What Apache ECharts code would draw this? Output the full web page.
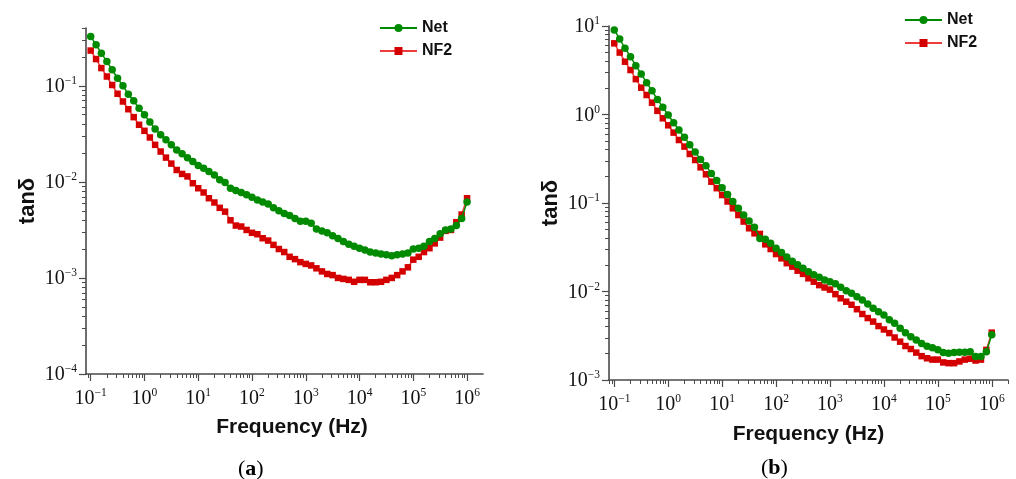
<!DOCTYPE html>
<html>
<head>
<meta charset="utf-8">
<script src="https://cdn.jsdelivr.net/npm/echarts@6/dist/echarts.min.js"></script>
<style>
  html, body { margin: 0; padding: 0; background: #fff; }
  #chart { width: 1016px; height: 479px; }
</style>
</head>
<body>
<div id="chart"></div>
<script>
// frequency points (Hz), 10 per decade
const freq = [
  0.1, 0.126, 0.158, 0.2, 0.251, 0.316, 0.398, 0.501, 0.631, 0.794,
  1, 1.26, 1.58, 2, 2.51, 3.16, 3.98, 5.01, 6.31, 7.94,
  10, 12.6, 15.8, 20, 25.1, 31.6, 39.8, 50.1, 63.1, 79.4,
  100, 126, 158, 200, 251, 316, 398, 501, 631, 794,
  1000, 1260, 1580, 2000, 2510, 3160, 3980, 5010, 6310, 7940,
  10000, 12600, 15800, 20000, 25100, 31600, 39800, 50100, 63100, 79400,
  100000, 126000, 158000, 200000, 251000, 316000, 398000, 501000, 631000, 794000,
  1000000
]

// (a) tan delta
const netA = [
  0.327, 0.267, 0.219, 0.179, 0.147, 0.120, 0.100, 0.0818, 0.0698, 0.0585,
  0.0499, 0.0419, 0.0356, 0.0309, 0.0274, 0.0243, 0.0215, 0.0196, 0.0178, 0.0163,
  0.0148, 0.0139, 0.0128, 0.0118, 0.0105, 0.00984, 0.00859, 0.00813, 0.00776, 0.00733,
  0.00692, 0.00646, 0.00617, 0.00589, 0.00537, 0.00501, 0.00468, 0.00447, 0.00417, 0.00389,
  0.00389, 0.00372, 0.00324, 0.00309, 0.00295, 0.00275, 0.00257, 0.00240, 0.00224, 0.00214,
  0.00204, 0.00195, 0.00186, 0.00182, 0.00178, 0.00174, 0.00170, 0.00174, 0.00178, 0.00182,
  0.00200, 0.00204, 0.00214, 0.00240, 0.00257, 0.00288, 0.00316, 0.00324, 0.00351, 0.00417,
  0.00617
]
const nf2A = [
  0.233, 0.190, 0.153, 0.125, 0.102, 0.0826, 0.0687, 0.0571, 0.0472, 0.0393,
  0.0340, 0.0290, 0.0243, 0.0207, 0.0179, 0.0155, 0.0133, 0.0121, 0.0114, 0.00968,
  0.00859, 0.00776, 0.00676, 0.00610, 0.00537, 0.00490, 0.00398, 0.00351, 0.00343, 0.00316,
  0.00295, 0.00285, 0.00259, 0.00245, 0.00221, 0.00200, 0.00186, 0.00166, 0.00157, 0.00146,
  0.00140, 0.00135, 0.00126, 0.00117, 0.00110, 0.00107, 0.00100, 0.000977, 0.000955, 0.000912,
  0.000955, 0.000955, 0.000902, 0.000902, 0.000912, 0.000955, 0.00100, 0.00107, 0.00117, 0.00129,
  0.00155, 0.00166, 0.00186, 0.00204, 0.00229, 0.00263, 0.00309, 0.00316, 0.00380, 0.00457,
  0.00676
]

// (b) tan delta
const netB = [
  9.02, 7.13, 5.60, 4.50, 3.56, 2.87, 2.29, 1.85, 1.48, 1.21,
  0.986, 0.809, 0.668, 0.552, 0.456, 0.377, 0.311, 0.264, 0.216, 0.179,
  0.149, 0.125, 0.104, 0.0871, 0.0731, 0.0627, 0.0531, 0.0398, 0.0389, 0.0350,
  0.0309, 0.0275, 0.0245, 0.0219, 0.0200, 0.0183, 0.0167, 0.0155, 0.0145, 0.0135,
  0.0129, 0.0122, 0.0112, 0.0102, 0.00955, 0.00871, 0.00802, 0.00724, 0.00646, 0.00589,
  0.00543, 0.00479, 0.00437, 0.00384, 0.00343, 0.00309, 0.00283, 0.00259, 0.00240, 0.00232,
  0.00219, 0.00204, 0.00200, 0.00204, 0.00206, 0.00206, 0.00209, 0.00184, 0.00184, 0.00209,
  0.00324
]
const nf2B = [
  6.37, 5.01, 3.95, 3.18, 2.51, 2.01, 1.66, 1.36, 1.10, 0.906,
  0.755, 0.624, 0.515, 0.434, 0.358, 0.306, 0.253, 0.211, 0.174, 0.147,
  0.123, 0.104, 0.0871, 0.0731, 0.0617, 0.0518, 0.0454, 0.0447, 0.0341, 0.0302,
  0.0265, 0.0237, 0.0209, 0.0191, 0.0172, 0.0158, 0.0141, 0.0129, 0.0118, 0.0111,
  0.0105, 0.00933, 0.00838, 0.00767, 0.00708, 0.00631, 0.00557, 0.00501, 0.00457, 0.00407,
  0.00372, 0.00339, 0.00302, 0.00271, 0.00242, 0.00224, 0.00204, 0.00186, 0.00176, 0.00170,
  0.00170, 0.00158, 0.00155, 0.00155, 0.00162, 0.00170, 0.00174, 0.00166, 0.00170, 0.00219,
  0.00343
]

// tick labels (decades)
const xDecades = [0.1, 1, 10, 100, 1000, 10000, 100000, 1000000]
const yDecadesA = [0.0001, 0.001, 0.01, 0.1]
const yDecadesB = [0.001, 0.01, 0.1, 1, 10]
const minorSteps = [2, 3, 4, 5, 6, 7, 8, 9]

const AXIS_COLOR = '#4a4a4a'
const GREEN = '#008a00'
const RED = '#d40000'

// minor log ticks between 10^from and 10^to
function minorTicks(from, to) {
  const out = []
  for (let e = from; e < to; e++) {
    minorSteps.forEach(m => out.push(parseFloat((m * Math.pow(10, e)).toPrecision(6))))
  }
  return out
}

function powLabel(value) {
  const e = Math.round(Math.log10(value))
  const sup = e < 0 ? '\u2212' + Math.abs(e) : String(e)
  return '{b|10}{s|' + sup + '}'
}

const labelRich = {
  b: { fontFamily: 'Liberation Serif', fontSize: 20, color: '#111', lineHeight: 22, verticalAlign: 'bottom' },
  s: { fontFamily: 'Liberation Serif', fontSize: 11.5, color: '#111', lineHeight: 12, verticalAlign: 'top' }
}

const nameStyle = {
  fontFamily: 'Liberation Sans',
  fontWeight: 'bold',
  fontSize: 21,
  color: '#111'
}

function majorAxis(gridIndex, dim, min, max, ticks, extra) {
  return Object.assign({
    type: 'log',
    logBase: 10,
    gridIndex: gridIndex,
    position: dim === 'x' ? 'bottom' : 'left',
    min: min,
    max: max,
    axisLine: { show: true, onZero: false, lineStyle: { color: AXIS_COLOR, width: 1.6 } },
    axisTick: { show: true, inside: false, length: 7, customValues: ticks, lineStyle: { color: AXIS_COLOR, width: 1.2 } },
    minorTick: { show: false },
    splitLine: { show: false },
    axisLabel: {
      customValues: ticks,
      formatter: powLabel,
      rich: labelRich,
      margin: dim === 'x' ? 13 : 9
    }
  }, extra)
}

function minorAxis(gridIndex, dim, min, max, ticks) {
  return {
    type: 'log',
    logBase: 10,
    gridIndex: gridIndex,
    position: dim === 'x' ? 'bottom' : 'left',
    min: min,
    max: max,
    axisLine: { show: false },
    axisTick: { show: true, inside: false, length: 4, customValues: ticks, lineStyle: { color: AXIS_COLOR, width: 1 } },
    minorTick: { show: false },
    splitLine: { show: false },
    axisLabel: { show: false }
  }
}

function lineSeries(name, xIdx, yIdx, values) {
  const isNet = name === 'Net'
  return {
    name: name,
    type: 'line',
    xAxisIndex: xIdx,
    yAxisIndex: yIdx,
    data: freq.map((f, i) => [f, values[i]]),
    symbol: isNet ? 'circle' : 'rect',
    symbolSize: isNet ? 7.5 : 6.5,
    showSymbol: true,
    z: isNet ? 3 : 2,
    lineStyle: { color: isNet ? GREEN : '#ee3b3b', width: 1.5 },
    itemStyle: { color: isNet ? GREEN : RED },
    emphasis: { disabled: true }
  }
}

function legendAt(left, top) {
  return {
    orient: 'vertical',
    left: left,
    top: top,
    padding: 0,
    data: ['Net', 'NF2'],
    itemWidth: 37,
    itemHeight: 10,
    itemGap: 7,
    selectedMode: false,
    textStyle: { fontFamily: 'Liberation Sans', fontWeight: 'bold', fontSize: 16, color: '#111' }
  }
}

const chart = echarts.init(document.getElementById('chart'), null, { renderer: 'canvas' })

chart.setOption({
  animation: false,
  backgroundColor: '#fff',
  grid: [
    { left: 86, top: 28, width: 397, height: 346 },
    { left: 609, top: 26, width: 399, height: 354 }
  ],
  legend: [legendAt(379, 20), legendAt(904, 12)],
  xAxis: [
    majorAxis(0, 'x', 0.0818, 1.98e6, xDecades, {
      name: 'Frequency (Hz)', nameLocation: 'middle', nameGap: 43,
      nameTextStyle: Object.assign({ padding: [0, 0, 0, 15] }, nameStyle)
    }),
    minorAxis(0, 'x', 0.0818, 1.98e6, minorTicks(-2, 7)),
    majorAxis(1, 'x', 0.0798, 2.0e6, xDecades, {
      name: 'Frequency (Hz)', nameLocation: 'middle', nameGap: 44, nameTextStyle: nameStyle
    }),
    minorAxis(1, 'x', 0.0798, 2.0e6, minorTicks(-2, 7))
  ],
  yAxis: [
    majorAxis(0, 'y', 0.0001, 0.4, yDecadesA, {
      name: 'tan\u03b4', nameLocation: 'middle', nameRotate: 90, nameGap: 47,
      nameTextStyle: Object.assign({}, nameStyle, { fontSize: 22 })
    }),
    minorAxis(0, 'y', 0.0001, 0.4, minorTicks(-4, 0)),
    majorAxis(1, 'y', 0.001, 10, yDecadesB, {
      name: 'tan\u03b4', nameLocation: 'middle', nameRotate: 90, nameGap: 47,
      nameTextStyle: Object.assign({}, nameStyle, { fontSize: 22 })
    }),
    minorAxis(1, 'y', 0.001, 10, minorTicks(-3, 1))
  ],
  series: [
    lineSeries('Net', 0, 0, netA),
    lineSeries('NF2', 0, 0, nf2A),
    lineSeries('Net', 2, 2, netB),
    lineSeries('NF2', 2, 2, nf2B)
  ],
  graphic: [
    {
      type: 'text', left: 238, top: 458,
      style: {
        text: '{n|(}{a|a}{n|)}',
        rich: {
          n: { fontFamily: 'Liberation Serif', fontSize: 22, color: '#111' },
          a: { fontFamily: 'Liberation Serif', fontSize: 22, fontWeight: 'bold', color: '#111' }
        }
      }
    },
    {
      type: 'text', left: 761, top: 457,
      style: {
        text: '{n|(}{a|b}{n|)}',
        rich: {
          n: { fontFamily: 'Liberation Serif', fontSize: 22, color: '#111' },
          a: { fontFamily: 'Liberation Serif', fontSize: 22, fontWeight: 'bold', color: '#111' }
        }
      }
    }
  ]
})
</script>
</body>
</html>
